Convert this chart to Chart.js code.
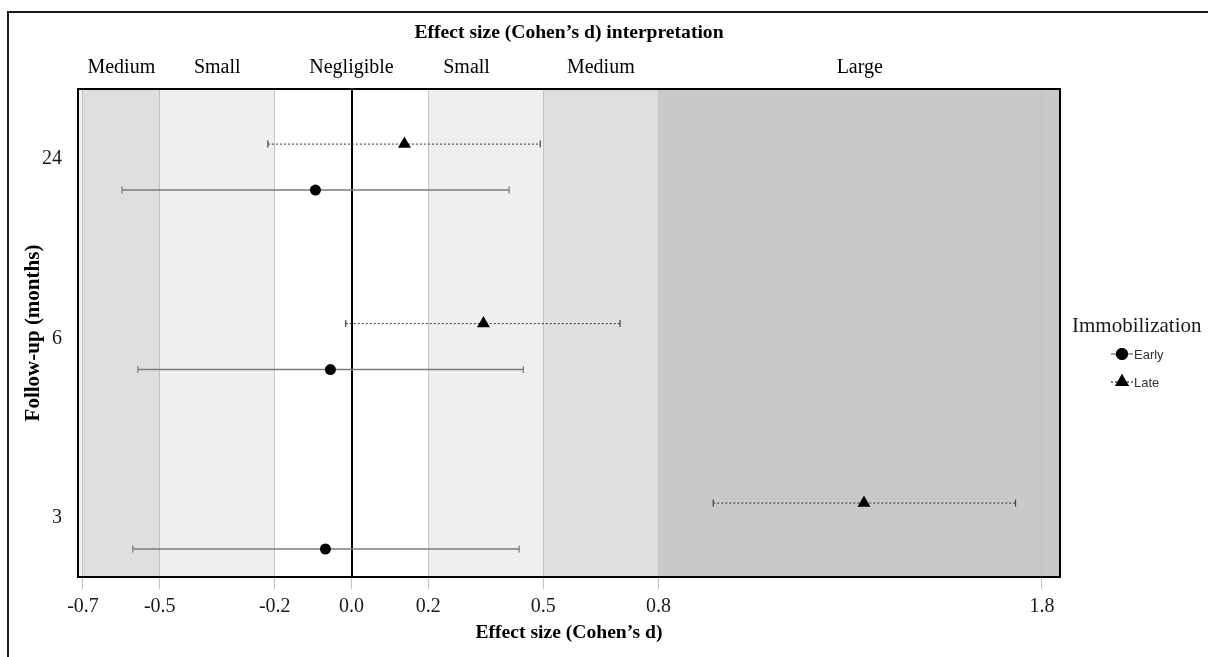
<!DOCTYPE html>
<html>
<head>
<meta charset="utf-8">
<script src="https://cdn.jsdelivr.net/npm/chart.js@4/dist/chart.umd.min.js"></script>
<style>
  html, body { margin: 0; padding: 0; background: #fff; }
  #wrap { width: 1208px; height: 657px; }
</style>
</head>
<body>
<div id="wrap"><canvas id="c" width="1208" height="657"></canvas></div>
<script>
// ---- data ----
const groupLabels = ['3', '6', '24'];          // follow-up (months)
const groupPos = [1, 2, 3];
const seriesNames = ['Early', 'Late'];
const earlyEst = [-0.068, -0.055, -0.094];
const earlyLo  = [-0.570, -0.557, -0.598];
const earlyHi  = [ 0.437,  0.448,  0.411];
const lateEst  = [ 1.336,  0.344,  0.138];
const lateLo   = [ 0.943, -0.015, -0.218];
const lateHi   = [ 1.731,  0.700,  0.492];
const xTickValues = [-0.7, -0.5, -0.2, 0.0, 0.2, 0.5, 0.8, 1.8];
const bandStarts = [-0.7, -0.5, -0.2, 0.2, 0.5, 0.8];
const bandEnds   = [-0.5, -0.2,  0.2, 0.5, 0.8, Infinity];
const bandNames  = ['Medium', 'Small', 'Negligible', 'Small', 'Medium', 'Large'];
const bandLabelAt = [-0.6, -0.35, 0.0, 0.3, 0.65, 1.325];

// ---- styles ----
const SERIF = '"Liberation Serif", "Times New Roman", serif';
const SANS = '"Liberation Sans", Arial, sans-serif';
const bandColors = ['#dfdfdf', '#efefef', '#ffffff', '#efefef', '#dfdfdf', '#c9c9c9'];
const DODGE = 0.128;
const seriesStyle = {
  Early: { color: '#7a7a7a', width: 1.6, dash: [], marker: 'circle', radius: 5.5, offset: -DODGE },
  Late:  { color: '#444444', width: 1.1, dash: [2, 2], marker: 'triangle', radius: 7.5, offset: DODGE }
};
const seriesData = {
  Early: { est: earlyEst, lo: earlyLo, hi: earlyHi },
  Late:  { est: lateEst,  lo: lateLo,  hi: lateHi }
};

const datasets = [];
seriesNames.forEach(name => {
  const st = seriesStyle[name], d = seriesData[name];
  groupPos.forEach((g, i) => {
    datasets.push({
      type: 'line',
      label: name + ' CI ' + groupLabels[i],
      data: [{ x: d.lo[i], y: g + st.offset }, { x: d.hi[i], y: g + st.offset }],
      borderColor: st.color,
      borderWidth: st.width,
      borderDash: st.dash,
      pointStyle: 'line',
      rotation: 90,
      pointRadius: 3.5,
      pointBorderColor: st.color,
      pointBorderWidth: 1.2,
      pointBackgroundColor: st.color,
      fill: false,
      order: 2,
      isCI: true
    });
  });
});
seriesNames.forEach(name => {
  const st = seriesStyle[name], d = seriesData[name];
  datasets.push({
    type: 'scatter',
    label: name,
    data: groupPos.map((g, i) => ({ x: d.est[i], y: g + st.offset })),
    pointStyle: st.marker,
    pointRadius: st.radius,
    backgroundColor: '#000',
    borderColor: '#000',
    borderWidth: 0,
    order: 1,
    isMarker: true,
    lineColor: st.color,
    lineDash: st.dash
  });
});

const decorPlugin = {
  id: 'decor',
  beforeDraw(chart) {
    const ctx = chart.ctx, ca = chart.chartArea, xs = chart.scales.x;
    ctx.save();
    // outer frame
    ctx.strokeStyle = '#1a1a1a';
    ctx.lineWidth = 2;
    ctx.strokeRect(8, 12, chart.width + 20, chart.height + 20);
    // panel background left of first band
    ctx.fillStyle = '#f3f3f3';
    ctx.fillRect(ca.left, ca.top, ca.right - ca.left, ca.bottom - ca.top);
    // bands
    bandStarts.forEach((s, i) => {
      const x0 = Math.max(ca.left, xs.getPixelForValue(s));
      const x1 = isFinite(bandEnds[i]) ? xs.getPixelForValue(bandEnds[i]) : ca.right;
      ctx.fillStyle = bandColors[i];
      ctx.fillRect(x0, ca.top, Math.min(x1, ca.right) - x0, ca.bottom - ca.top);
    });
    // top titles
    ctx.fillStyle = '#000';
    ctx.textAlign = 'center';
    ctx.textBaseline = 'middle';
    ctx.font = 'bold 19.6px ' + SERIF;
    ctx.fillText('Effect size (Cohen\u2019s d) interpretation', (ca.left + ca.right) / 2, 33);
    ctx.font = '20px ' + SERIF;
    bandNames.forEach((n, i) => {
      ctx.fillText(n, xs.getPixelForValue(bandLabelAt[i]), 68);
    });
    ctx.restore();
  },
  beforeDatasetsDraw(chart) {
    const ctx = chart.ctx, ca = chart.chartArea, xs = chart.scales.x;
    ctx.save();
    const x0 = Math.round(xs.getPixelForValue(0));
    ctx.strokeStyle = '#000';
    ctx.lineWidth = 2;
    ctx.beginPath();
    ctx.moveTo(x0, ca.top);
    ctx.lineTo(x0, ca.bottom);
    ctx.stroke();
    ctx.restore();
  },
  afterDatasetsDraw(chart) {
    const ctx = chart.ctx, ca = chart.chartArea;
    ctx.save();
    ctx.strokeStyle = '#000';
    ctx.lineWidth = 2;
    ctx.strokeRect(ca.left, ca.top, ca.right - ca.left, ca.bottom - ca.top);
    // legend
    ctx.fillStyle = '#1a1a1a';
    ctx.textAlign = 'left';
    ctx.textBaseline = 'middle';
    ctx.font = '21px ' + SERIF;
    ctx.fillText('Immobilization', 1072, 326);
    const markers = chart.data.datasets.filter(d => d.isMarker);
    markers.forEach((d, i) => {
      const cy = 354 + i * 28, cx = 1122;
      ctx.save();
      ctx.strokeStyle = d.lineColor;
      ctx.lineWidth = 1.4;
      ctx.setLineDash(d.lineDash);
      ctx.beginPath();
      ctx.moveTo(cx - 11, cy);
      ctx.lineTo(cx + 11, cy);
      ctx.stroke();
      ctx.restore();
      ctx.fillStyle = '#000';
      Chart.helpers.drawPoint(ctx, { pointStyle: d.pointStyle, radius: d.pointRadius + 0.5, borderWidth: 0 }, cx, cy);
      ctx.fill();
      ctx.fillStyle = '#333';
      ctx.font = '13px ' + SANS;
      ctx.fillText(d.label, 1134, cy + 1);
    });
    ctx.restore();
  }
};

new Chart(document.getElementById('c'), {
  data: { datasets },
  options: {
    responsive: false,
    animation: false,
    devicePixelRatio: 1,
    layout: { padding: { top: 89, right: 148, left: 0, bottom: 0 } },
    plugins: { legend: { display: false }, tooltip: { enabled: false }, title: { display: false } },
    scales: {
      x: {
        type: 'linear',
        position: 'bottom',
        min: -0.713,
        max: 1.847,
        afterBuildTicks(scale) { scale.ticks = xTickValues.map(v => ({ value: v })); },
        afterFit(scale) { scale.height = 80; },
        ticks: {
          callback: v => Number(v).toFixed(1),
          font: { family: SERIF, size: 20 },
          color: '#1a1a1a',
          padding: 6,
          maxRotation: 0,
          autoSkip: false
        },
        grid: { color: '#c2c2c2', lineWidth: 1, tickLength: 12, tickColor: '#c2c2c2', drawOnChartArea: true },
        border: { display: false },
        title: {
          display: true,
          text: 'Effect size (Cohen\u2019s d)',
          font: { family: SERIF, size: 19.6, weight: 'bold' },
          color: '#000',
          padding: { top: 0, bottom: 12 }
        }
      },
      y: {
        type: 'linear',
        position: 'left',
        min: 0.716,
        max: 3.435,
        afterBuildTicks(scale) { scale.ticks = groupPos.map(v => ({ value: v })); },
        afterFit(scale) { scale.width = 78; },
        ticks: {
          callback: v => groupLabels[groupPos.indexOf(v)],
          font: { family: SERIF, size: 20 },
          color: '#1a1a1a',
          padding: 8,
          labelOffset: -8,
          autoSkip: false
        },
        grid: { display: false },
        border: { display: false },
        title: {
          display: true,
          text: 'Follow-up (months)',
          font: { family: SERIF, size: 21, weight: 'bold' },
          color: '#000',
          padding: { top: 21, bottom: 0 }
        }
      }
    }
  },
  plugins: [decorPlugin]
});
</script>
</body>
</html>
